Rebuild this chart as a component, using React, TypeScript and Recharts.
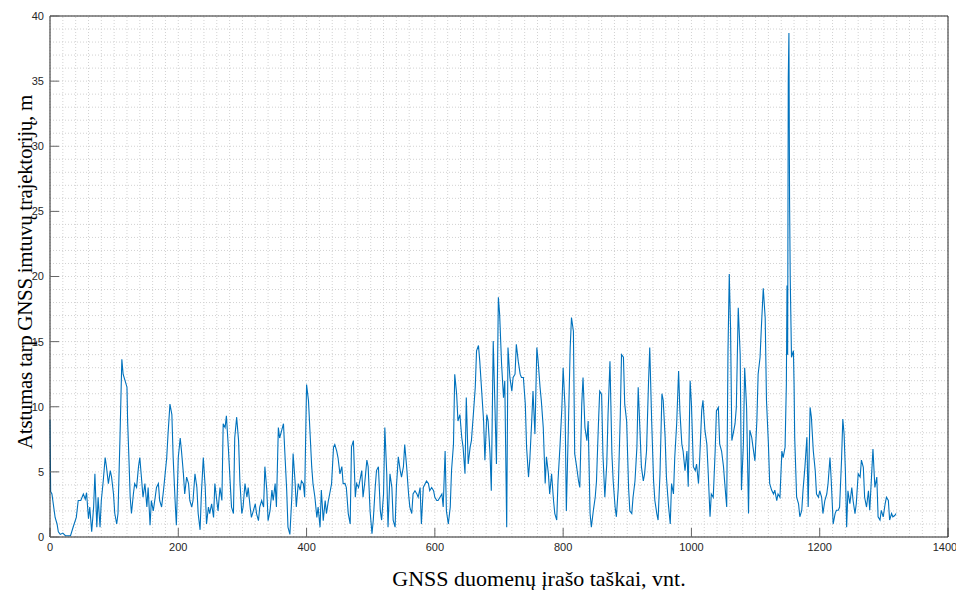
import { Line, LineChart, ReferenceLine, XAxis, YAxis } from "recharts";

// [point index, distance m], split by region
const points0to225: [number, number][] = [
  [0, 9], [1, 3.5], [3, 3.3], [8, 1.5], [11, 1.0], [13, 0.4], [16, 0.2], [20, 0.3], [24, 0.1], [28, 0.1],
  [32, 0.1], [36, 0.75], [41, 1.5], [44, 2.8], [48, 2.8], [52, 3.3], [55, 2.9], [57, 3.4], [60, 1.4], [62, 2.3],
  [65, 0.4], [68, 2.3], [70, 4.85], [73, 0.75], [75, 3.05], [78, 0.75], [80, 2.8], [83, 4.3], [86, 6.1], [88, 5.4],
  [91, 4.1], [94, 5.1], [96, 4.6], [99, 3.3], [101, 1.8], [104, 1.0], [106, 1.8], [109, 7.4], [112, 13.65], [114, 12.5],
  [117, 12.0], [120, 11.5], [121, 8.9], [123, 6.1], [125, 3.05], [127, 1.8], [130, 3.3], [132, 4.1], [135, 3.8], [138, 5.4],
  [140, 6.1], [143, 4.3], [145, 3.05], [148, 4.1], [151, 2.3], [153, 3.8], [156, 0.9], [158, 2.8], [161, 2.0], [164, 3.05],
  [166, 3.8], [169, 4.1], [171, 2.8], [174, 2.3], [177, 3.6], [179, 4.6], [182, 6.1], [184, 7.9], [187, 10.2], [190, 9.4],
  [192, 6.1], [195, 2.8], [197, 0.9], [200, 6.1], [203, 7.6], [205, 6.6], [208, 4.85], [210, 3.3], [213, 4.6], [216, 4.1],
  [218, 2.8], [221, 2.3], [223, 2.8],
];

const points226to468: [number, number][] = [
  [226, 4.85], [229, 3.8], [231, 1.8], [234, 0.55], [236, 3.3], [239, 6.1], [242, 3.8], [244, 1.0], [247, 2.3], [249, 1.8],
  [252, 2.55], [255, 1.5], [257, 4.1], [260, 2.8], [262, 2.0], [265, 3.8], [268, 2.8], [270, 8.7], [273, 8.4], [275, 9.3],
  [278, 6.9], [281, 4.1], [283, 2.3], [286, 1.8], [288, 7.6], [291, 9.2], [294, 7.4], [296, 4.3], [299, 1.8], [301, 2.3],
  [304, 4.1], [307, 3.05], [309, 3.8], [312, 2.3], [314, 1.5], [317, 2.0], [320, 2.55], [322, 1.8], [325, 1.25], [327, 2.3],
  [330, 2.8], [333, 2.3], [335, 5.4], [338, 3.6], [340, 1.25], [343, 2.0], [346, 3.6], [348, 2.8], [351, 4.1], [353, 2.3],
  [356, 8.4], [358, 7.6], [361, 8.15], [364, 8.7], [366, 6.6], [369, 3.6], [371, 0.75], [374, 0.2], [377, 3.05], [379, 6.4],
  [382, 4.3], [384, 2.3], [387, 4.1], [390, 3.6], [392, 4.3], [395, 4.1], [397, 3.05], [400, 11.7], [403, 10.45], [405, 8.4],
  [408, 5.4], [410, 4.1], [413, 3.05], [416, 1.5], [418, 2.3], [421, 0.75], [423, 3.6], [426, 1.25], [429, 2.8], [431, 1.8],
  [434, 2.8], [436, 3.3], [439, 4.1], [442, 6.9], [444, 7.1], [447, 6.6], [449, 6.1], [452, 4.85], [455, 5.4], [457, 4.1],
  [460, 4.1], [462, 3.8], [465, 1.8], [468, 1.0],
];

const points470to707: [number, number][] = [
  [470, 6.9], [473, 7.4], [476, 3.05], [478, 4.1], [481, 3.8], [483, 4.3], [486, 5.1], [488, 3.05], [491, 4.3], [494, 5.9],
  [496, 5.4], [499, 2.0], [502, 0.25], [504, 1.3], [507, 3.8], [509, 5.1], [512, 5.4], [515, 2.0], [517, 1.3], [520, 3.3],
  [522, 8.4], [525, 4.85], [527, 0.75], [530, 4.85], [533, 3.8], [535, 1.3], [538, 0.75], [540, 3.8], [543, 6.15], [546, 5.1],
  [548, 4.6], [551, 5.4], [553, 7.1], [556, 5.4], [559, 3.3], [561, 2.3], [564, 1.8], [566, 3.3], [569, 3.55], [572, 3.3],
  [574, 3.05], [577, 3.8], [579, 1.0], [582, 3.8], [585, 4.1], [587, 4.3], [590, 4.1], [592, 3.55], [595, 3.8], [598, 3.55],
  [600, 3.05], [603, 2.8], [605, 2.8], [608, 3.05], [611, 3.3], [613, 2.3], [616, 6.6], [618, 2.0], [621, 1.0], [624, 2.3],
  [626, 5.1], [629, 7.1], [631, 12.5], [634, 10.95], [636, 8.9], [639, 9.4], [642, 7.6], [644, 6.9], [647, 4.85], [649, 10.7],
  [652, 5.6], [655, 6.9], [657, 7.4], [660, 9.4], [663, 11.5], [665, 14.3], [668, 14.7], [670, 13.5], [673, 11.2], [676, 8.9],
  [678, 5.9], [681, 9.4], [683, 8.9], [686, 6.4], [688, 3.55], [691, 15.05], [694, 9.4], [696, 5.6], [699, 18.4], [701, 17.1],
  [704, 13.3], [707, 10.7],
];

const points709to948: [number, number][] = [
  [709, 12.0], [712, 0.75], [714, 14.55], [717, 12.25], [720, 11.2], [722, 12.25], [725, 12.5], [727, 14.8], [730, 13.5], [733, 12.5],
  [735, 12.25], [738, 12.25], [741, 10.2], [743, 6.9], [746, 4.6], [748, 5.9], [751, 8.9], [753, 11.2], [756, 7.9], [759, 14.55],
  [761, 13.5], [764, 11.5], [766, 10.45], [769, 8.4], [772, 4.1], [774, 6.15], [777, 4.85], [779, 3.3], [782, 4.85], [785, 2.8],
  [787, 1.8], [790, 1.3], [792, 4.3], [795, 6.9], [798, 9.9], [800, 13.0], [803, 9.9], [805, 2.0], [808, 8.15], [811, 14.55],
  [813, 16.85], [816, 15.8], [818, 6.4], [821, 5.4], [824, 4.3], [826, 3.8], [829, 10.2], [831, 12.25], [834, 8.4], [837, 7.4],
  [839, 8.9], [842, 1.8], [844, 0.75], [847, 2.0], [850, 3.05], [852, 4.3], [855, 8.65], [857, 11.2], [860, 10.95], [862, 6.4],
  [865, 3.05], [868, 5.6], [870, 9.4], [873, 13.5], [876, 6.4], [878, 4.3], [881, 2.3], [883, 1.55], [886, 3.8], [889, 9.15],
  [891, 14.0], [894, 13.8], [896, 10.2], [899, 8.9], [902, 3.8], [904, 2.0], [907, 1.8], [909, 3.05], [912, 4.3], [915, 6.9],
  [917, 11.5], [920, 7.9], [922, 5.4], [925, 4.3], [927, 4.85], [930, 6.6], [933, 11.7], [935, 14.55], [938, 8.9], [941, 4.3],
  [943, 2.8], [946, 1.8], [948, 1.3],
];

const points951to1190: [number, number][] = [
  [951, 4.85], [954, 11.0], [956, 10.5], [959, 7.65], [961, 4.6], [964, 2.55], [967, 1.0], [969, 4.1], [972, 3.3], [974, 6.1],
  [977, 8.7], [980, 12.75], [982, 9.7], [985, 7.15], [987, 6.6], [990, 5.1], [993, 6.6], [995, 3.85], [998, 12.0], [1000, 10.2],
  [1003, 5.4], [1006, 5.1], [1008, 5.6], [1011, 4.1], [1013, 6.1], [1016, 9.7], [1018, 10.5], [1021, 8.2], [1024, 7.15], [1026, 5.1],
  [1029, 1.55], [1031, 3.3], [1034, 3.05], [1037, 6.6], [1039, 9.7], [1042, 9.95], [1044, 7.15], [1047, 6.6], [1050, 5.4], [1052, 4.1],
  [1055, 2.3], [1057, 14.3], [1059, 20.2], [1061, 16.05], [1063, 7.4], [1065, 7.9], [1068, 8.7], [1070, 9.95], [1073, 17.6], [1076, 14.0],
  [1078, 3.6], [1081, 7.15], [1083, 13.0], [1086, 9.95], [1089, 1.8], [1091, 8.2], [1094, 7.65], [1096, 6.9], [1099, 5.85], [1102, 8.9],
  [1104, 12.5], [1107, 13.8], [1109, 16.05], [1112, 19.1], [1115, 16.8], [1117, 10.5], [1120, 7.15], [1122, 4.1], [1125, 3.6], [1128, 3.3],
  [1130, 3.6], [1133, 2.8], [1135, 3.3], [1138, 3.05], [1141, 6.6], [1143, 6.1], [1146, 6.9], [1148, 11.75], [1149, 19.3], [1150, 14.0],
  [1151, 35.2], [1152, 38.7], [1153, 25.8], [1154, 20.0], [1156, 13.8], [1159, 14.3], [1160, 11.75], [1161, 7.65], [1164, 3.05], [1167, 2.55],
  [1169, 1.55], [1172, 2.05], [1174, 3.6], [1177, 5.4], [1180, 7.65], [1182, 2.3], [1185, 9.95], [1187, 9.2], [1190, 6.6],
];

const points1193to1319: [number, number][] = [
  [1193, 5.1], [1195, 3.3], [1198, 3.05], [1200, 3.55], [1203, 3.05], [1205, 1.8], [1208, 2.8], [1211, 3.3], [1213, 4.1], [1216, 6.1],
  [1218, 4.3], [1221, 1.0], [1224, 1.8], [1226, 2.05], [1229, 2.05], [1231, 2.3], [1234, 5.9], [1236, 9.05], [1238, 7.9], [1240, 5.1],
  [1242, 0.75], [1244, 3.55], [1247, 2.55], [1250, 3.8], [1252, 2.8], [1255, 1.8], [1257, 2.55], [1260, 4.85], [1263, 4.6], [1265, 5.9],
  [1268, 5.35], [1270, 3.05], [1273, 2.3], [1276, 3.55], [1278, 2.05], [1281, 4.85], [1283, 6.75], [1286, 3.8], [1289, 4.6], [1291, 1.55],
  [1294, 1.3], [1296, 2.05], [1299, 1.55], [1302, 2.55], [1304, 3.05], [1307, 2.8], [1309, 1.3], [1312, 1.8], [1314, 1.55], [1317, 1.65],
  [1319, 1.8],
];

const xTicks = [0, 200, 400, 600, 800, 1000, 1200, 1400];
const yTicks = [0, 5, 10, 15, 20, 25, 30, 35, 40];
const minorX = Array.from({ length: 71 }, (_, i) => i * 20);
const minorY = Array.from({ length: 41 }, (_, i) => i);

const data = [
  ...points0to225,
  ...points226to468,
  ...points470to707,
  ...points709to948,
  ...points951to1190,
  ...points1193to1319,
].map(([x, y]) => ({ x, y }));

const axisColor = "#262626";
const tickStyle = { fill: axisColor, fontSize: 11, fontFamily: "'Liberation Sans', Arial, sans-serif" };
const labelFont = "'Liberation Serif', 'Times New Roman', serif";

export default function App() {
  return (
    <div style={{ position: "absolute", left: 0, top: 0, width: 956, height: 590, background: "#fff" }}>
      <LineChart width={956} height={590} data={data} margin={{ top: 0, right: 0, bottom: 0, left: 0 }}>
        {minorX.map((v) => (
          <ReferenceLine key={"gx" + v} x={v} stroke="#d2d2d2" strokeDasharray="1 2" />
        ))}
        {minorY.map((v) => (
          <ReferenceLine key={"gy" + v} y={v} stroke="#d2d2d2" strokeDasharray="1 2" />
        ))}
        <XAxis
          dataKey="x"
          type="number"
          domain={[0, 1400]}
          ticks={xTicks}
          height={53}
          tickSize={-9}
          tickMargin={15}
          tick={tickStyle}
          axisLine={{ stroke: axisColor }}
          tickLine={{ stroke: "#666" }}
        />
        <XAxis
          xAxisId="top"
          orientation="top"
          type="number"
          domain={[0, 1400]}
          ticks={xTicks}
          height={16}
          tickSize={-9}
          tick={false}
          axisLine={{ stroke: axisColor }}
          tickLine={{ stroke: "#666" }}
        />
        <YAxis
          type="number"
          domain={[0, 40]}
          ticks={yTicks}
          width={50}
          tickSize={-9}
          tickMargin={15}
          tick={tickStyle}
          axisLine={{ stroke: axisColor }}
          tickLine={{ stroke: "#666" }}
        />
        <YAxis
          yAxisId="right"
          orientation="right"
          type="number"
          domain={[0, 40]}
          ticks={yTicks}
          width={8}
          tickSize={-9}
          tick={false}
          axisLine={{ stroke: axisColor }}
          tickLine={{ stroke: "#666" }}
        />
        <Line
          type="linear"
          dataKey="y"
          stroke="#0072BD"
          strokeWidth={1.1}
          dot={false}
          isAnimationActive={false}
        />
      </LineChart>
      <div
        style={{
          position: "absolute",
          left: 539,
          top: 568,
          transform: "translateX(-50%)",
          whiteSpace: "nowrap",
          fontFamily: labelFont,
          fontSize: 22,
          lineHeight: "22px",
          color: "#000",
        }}
      >
        GNSS duomenų įrašo taškai, vnt.
      </div>
      <div
        style={{
          position: "absolute",
          left: 25,
          top: 272,
          transform: "translate(-50%, -50%) rotate(-90deg)",
          whiteSpace: "nowrap",
          fontFamily: labelFont,
          fontSize: 21,
          letterSpacing: "-0.3px",
          lineHeight: "22px",
          color: "#000",
        }}
      >
        Atstumas tarp GNSS imtuvų trajektorijų, m
      </div>
    </div>
  );
}
